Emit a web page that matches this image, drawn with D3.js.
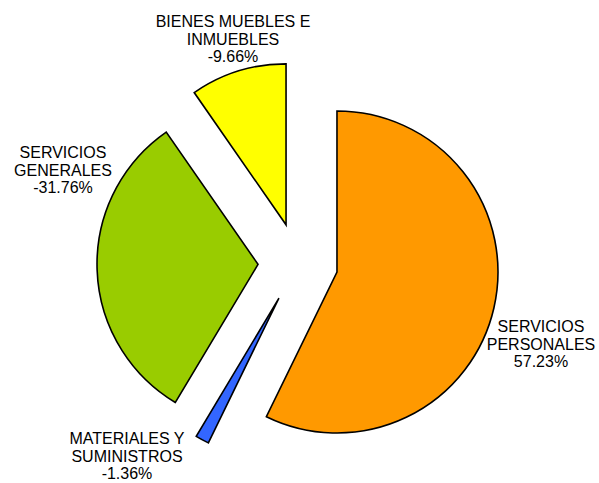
<!DOCTYPE html>
<html>
<head>
<meta charset="utf-8">
<script src="https://cdn.jsdelivr.net/npm/d3@7"></script>
<style>
  body { margin: 0; background: #fff; }
  svg { display: block; font-family: "Liberation Sans", Arial, sans-serif; }
</style>
</head>
<body>
<svg width="599" height="483"></svg>
<script>
var categories = ["SERVICIOS PERSONALES", "MATERIALES Y SUMINISTROS", "SERVICIOS GENERALES", "BIENES MUEBLES E INMUEBLES"];
var values = [57.23, 1.36, 31.76, 9.66];
var valueLabels = ["57.23%", "-1.36%", "-31.76%", "-9.66%"];
var colors = ["#ff9900", "#3366ff", "#99cc00", "#ffff00"];

// label placement: split lines, centre x and first baseline
var labelLines = [
    ["SERVICIOS", "PERSONALES"],
    ["MATERIALES Y", "SUMINISTROS"],
    ["SERVICIOS", "GENERALES"],
    ["BIENES MUEBLES E", "INMUEBLES"]
];
var labelPos = [[541, 332], [127, 444], [63, 158], [233, 27]];

var cx = 298, cy = 263, radius = 161, explode = 40;

var svg = d3.select("svg");

var pie = d3.pie().sort(null).value(function(d) { return d; });
var arc = d3.arc().innerRadius(0).outerRadius(radius);

var arcs = pie(values);

var g = svg.append("g").attr("transform", "translate(" + cx + "," + cy + ")");

g.selectAll("path")
    .data(arcs)
    .enter().append("path")
    .attr("d", arc)
    .attr("fill", function(d, i) { return colors[i]; })
    .attr("stroke", "#000")
    .attr("stroke-width", 1.6)
    .attr("stroke-linejoin", "miter")
    .attr("transform", function(d) {
        var a = (d.startAngle + d.endAngle) / 2;
        return "translate(" + (Math.sin(a) * explode) + "," + (-Math.cos(a) * explode) + ")";
    });

var labels = svg.selectAll("text.lbl")
    .data(arcs)
    .enter().append("text")
    .attr("class", "lbl")
    .attr("text-anchor", "middle")
    .attr("font-size", "16px")
    .attr("fill", "#000")
    .attr("x", function(d, i) { return labelPos[i][0]; })
    .attr("y", function(d, i) { return labelPos[i][1]; });

labels.each(function(d, i) {
    var t = d3.select(this);
    var lines = labelLines[i].concat([valueLabels[i]]);
    lines.forEach(function(line, j) {
        t.append("tspan")
            .attr("x", labelPos[i][0])
            .attr("dy", j === 0 ? 0 : 17.5)
            .text(line);
    });
});
</script>
</body>
</html>
